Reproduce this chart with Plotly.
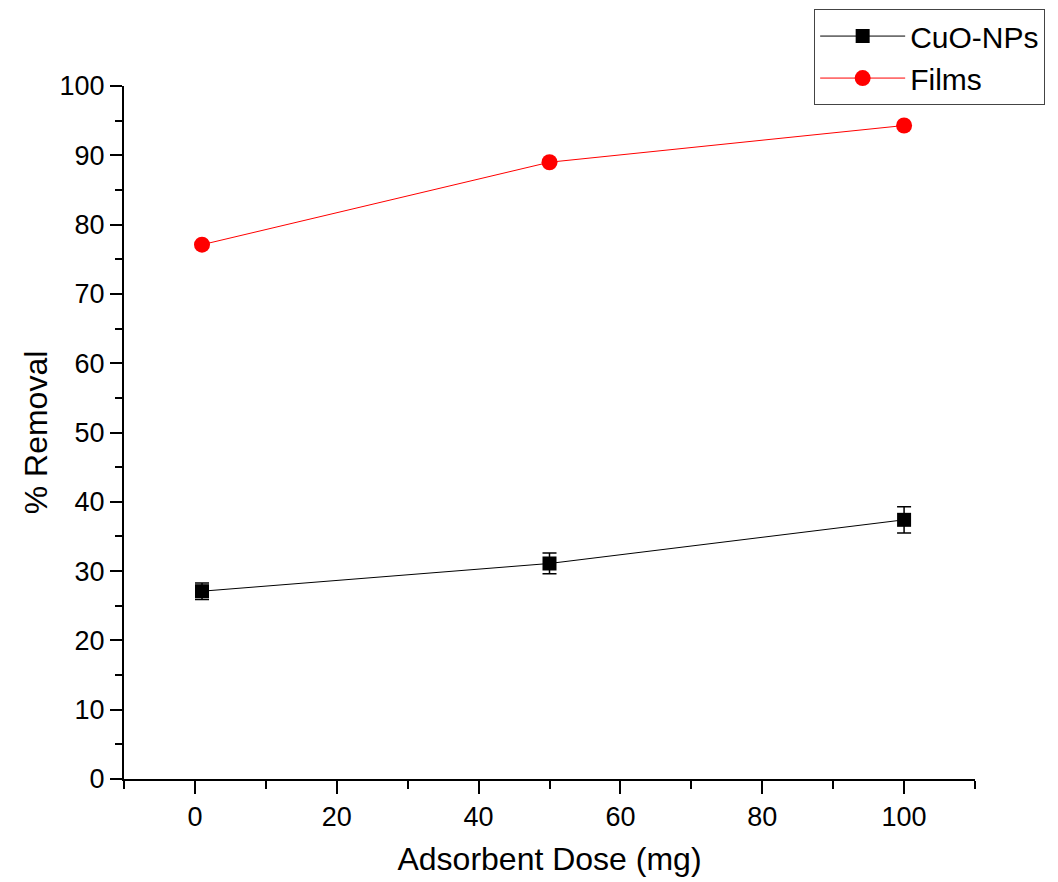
import plotly.graph_objects as go

dose = [1, 50, 100]
cuo_removal = [27.1, 31.1, 37.4]
cuo_err = [1.2, 1.5, 1.9]
films_removal = [77.1, 89.0, 94.3]

fig = go.Figure()
fig.add_trace(go.Scatter(
    x=dose, y=cuo_removal, name="CuO-NPs", mode="lines+markers",
    line=dict(color="black", width=1),
    marker=dict(symbol="square", size=14, color="black"),
    error_y=dict(type="data", array=cuo_err, visible=True, color="black", thickness=1.5, width=7),
))
fig.add_trace(go.Scatter(
    x=dose, y=films_removal, name="Films", mode="lines+markers",
    line=dict(color="red", width=1),
    marker=dict(symbol="circle", size=16, color="red"),
))

FONT = "Liberation Sans, Arial, sans-serif"
tick_font = dict(family=FONT, size=27, color="black")
fig.update_layout(
    width=1058, height=882,
    margin=dict(l=124, r=83, t=86, b=103, autoexpand=False),
    plot_bgcolor="white", paper_bgcolor="white",
    font=dict(family=FONT, color="black"),
    showlegend=True,
    legend=dict(
        x=0.811, y=1.111, xanchor="left", yanchor="top",
        bordercolor="#444", borderwidth=1, bgcolor="white",
        font=dict(family=FONT, size=30, color="black"),
        tracegroupgap=0, itemwidth=85,
    ),
    xaxis=dict(
        range=[-10, 110], tick0=0, dtick=20, showgrid=False, zeroline=False,
        showline=True, linecolor="black", linewidth=2, automargin=False,
        ticks="outside", ticklen=13, tickwidth=2, tickcolor="black",
        minor=dict(ticks="outside", ticklen=8, tickwidth=2, tickcolor="black", dtick=10, tick0=0),
        title=dict(text="Adsorbent Dose (mg)", font=dict(family=FONT, size=32), standoff=16),
        tickfont=tick_font, ticklabelstandoff=0,
    ),
    yaxis=dict(
        range=[0, 100], tick0=0, dtick=10, showgrid=False, zeroline=False,
        showline=True, linecolor="black", linewidth=2, automargin=False,
        ticks="outside", ticklen=12, tickwidth=2, tickcolor="black",
        minor=dict(ticks="outside", ticklen=7, tickwidth=2, tickcolor="black", dtick=5, tick0=0),
        title=dict(text="% Removal", font=dict(family=FONT, size=32), standoff=2),
        tickfont=tick_font, ticklabelstandoff=0,
    ),
)

fig.write_html("out.html")
